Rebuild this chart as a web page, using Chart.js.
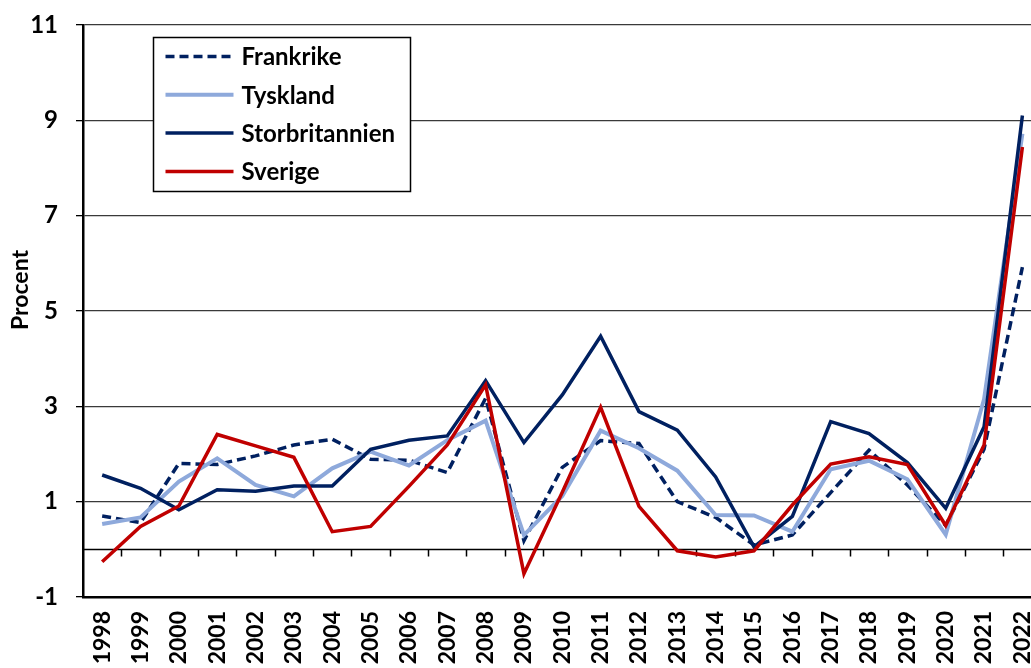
<!DOCTYPE html>
<html>
<head>
<meta charset="utf-8">
<script src="https://cdn.jsdelivr.net/npm/chart.js@4.4.1/dist/chart.umd.min.js"></script>
<style>
  html, body { margin: 0; padding: 0; background: #ffffff; overflow: hidden; }
  #wrap { width: 1064px; height: 668px; }
</style>
</head>
<body>
<div id="wrap"><canvas id="c" width="1064" height="668"></canvas></div>
<script>
const years = ['1998','1999','2000','2001','2002','2003','2004','2005','2006','2007','2008','2009','2010','2011','2012','2013','2014','2015','2016','2017','2018','2019','2020','2021','2022'];
const frankrike = [0.70, 0.56, 1.80, 1.78, 1.96, 2.19, 2.31, 1.89, 1.87, 1.61, 3.17, 0.18, 1.72, 2.28, 2.22, 1.00, 0.67, 0.09, 0.30, 1.19, 2.08, 1.35, 0.50, 2.10, 5.92];
const tyskland  = [0.53, 0.67, 1.42, 1.91, 1.35, 1.11, 1.70, 2.05, 1.76, 2.29, 2.70, 0.30, 1.12, 2.49, 2.12, 1.65, 0.72, 0.71, 0.37, 1.68, 1.86, 1.47, 0.31, 3.15, 8.72];
const storbritannien = [1.56, 1.28, 0.83, 1.25, 1.22, 1.33, 1.33, 2.10, 2.29, 2.38, 3.54, 2.24, 3.24, 4.47, 2.89, 2.50, 1.52, 0.05, 0.69, 2.68, 2.43, 1.82, 0.86, 2.57, 9.10];
const sverige   = [-0.26, 0.48, 0.91, 2.41, 2.17, 1.93, 0.37, 0.48, 1.32, 2.19, 3.45, -0.51, 1.20, 2.98, 0.90, -0.03, -0.16, -0.03, 0.93, 1.79, 1.94, 1.78, 0.50, 2.19, 8.44];
const yTicks = [-1, 1, 3, 5, 7, 9, 11];
const yTitle = 'Procent';

const FONT = 'Lato, "Open Sans", "DejaVu Sans", sans-serif';

const zeroLinePlugin = {
  id: 'zeroLine',
  beforeDatasetsDraw(chart) {
    const {ctx, chartArea, scales: {x, y}} = chart;
    const y0 = Math.round(y.getPixelForValue(0)) + 0.5;
    ctx.save();
    ctx.strokeStyle = '#000000';
    ctx.lineWidth = 1.5;
    ctx.beginPath();
    ctx.moveTo(chartArea.left, y0);
    ctx.lineTo(chartArea.right, y0);
    for (let i = 1; i < years.length; i++) {
      const px = Math.round(x.getPixelForValue(i - 0.5)) + 0.5;
      ctx.moveTo(px, y0);
      ctx.lineTo(px, y0 + 7);
    }
    ctx.stroke();
    ctx.restore();
  }
};

const legendPlugin = {
  id: 'boxLegend',
  afterDatasetsDraw(chart) {
    const {ctx, chartArea} = chart;
    const left = chartArea.left + 70.5, top = chartArea.top + 12.5;
    const w = 257, h = 154;
    ctx.save();
    ctx.fillStyle = '#ffffff';
    ctx.fillRect(left, top, w, h);
    ctx.strokeStyle = '#000000';
    ctx.lineWidth = 1.5;
    ctx.strokeRect(left, top, w, h);
    [0, 1, 2, 3].forEach((di, k) => {
      const ds = chart.data.datasets[di];
      const yy = top + 19 + k * 38.3;
      ctx.strokeStyle = ds.borderColor;
      ctx.lineWidth = ds.borderWidth;
      ctx.setLineDash(ds.borderDash || []);
      ctx.beginPath();
      ctx.moveTo(left + 12, yy);
      ctx.lineTo(left + 80, yy);
      ctx.stroke();
      ctx.setLineDash([]);
      ctx.fillStyle = '#000000';
      ctx.font = 'bold 24px ' + FONT;
      ctx.textBaseline = 'middle';
      ctx.textAlign = 'left';
      ctx.fillText(ds.label, left + 88, yy + 1);
    });
    ctx.restore();
  }
};

const yTitlePlugin = {
  id: 'yTitle',
  afterDraw(chart) {
    const {ctx, chartArea} = chart;
    ctx.save();
    ctx.translate(chartArea.left - 62, (chartArea.top + chartArea.bottom) / 2 - 21);
    ctx.rotate(-Math.PI / 2);
    ctx.fillStyle = '#000000';
    ctx.font = 'bold 23px ' + FONT;
    ctx.textAlign = 'center';
    ctx.textBaseline = 'middle';
    ctx.fillText(yTitle, 0, 0);
    ctx.restore();
  }
};

new Chart(document.getElementById('c'), {
  type: 'line',
  data: {
    labels: years,
    datasets: [
      { label: 'Frankrike', data: frankrike, borderColor: '#002060', borderWidth: 3.5, borderDash: [9, 5], order: 4 },
      { label: 'Tyskland', data: tyskland, borderColor: '#8EA9DB', borderWidth: 4, order: 3 },
      { label: 'Storbritannien', data: storbritannien, borderColor: '#002060', borderWidth: 3.5, order: 2 },
      { label: 'Sverige', data: sverige, borderColor: '#C00000', borderWidth: 3.5, order: 1 }
    ]
  },
  options: {
    responsive: false,
    animation: false,
    devicePixelRatio: 1,
    layout: { padding: { top: 25, right: 0, left: 0, bottom: 0 } },
    elements: {
      point: { radius: 0, hoverRadius: 0 },
      line: { tension: 0, fill: false, borderCapStyle: 'butt', borderJoinStyle: 'miter' }
    },
    plugins: { legend: { display: false }, tooltip: { enabled: false } },
    scales: {
      x: {
        type: 'category',
        offset: true,
        grid: { display: false, drawTicks: false },
        border: { display: true, color: '#000000', width: 2.5 },
        ticks: {
          autoSkip: false, minRotation: 90, maxRotation: 90, padding: 14,
          color: '#000000', font: { family: FONT, size: 23, weight: 'bold' }
        },
        afterFit(scale) { scale.height = 71; }
      },
      y: {
        type: 'linear',
        min: yTicks[0],
        max: yTicks[yTicks.length - 1],
        afterBuildTicks(scale) { scale.ticks = yTicks.map(v => ({ value: v })); },
        grid: { color: '#3a3a3a', lineWidth: 1.3, drawTicks: true, tickLength: 7, tickColor: '#000000' },
        border: { display: true, color: '#000000', width: 2.5 },
        ticks: {
          padding: 18, color: '#000000',
          font: { family: FONT, size: 24, weight: 'bold' }
        },
        afterFit(scale) { scale.width = 83; scale.paddingTop = 0; scale.paddingBottom = 0; }
      }
    }
  },
  plugins: [zeroLinePlugin, legendPlugin, yTitlePlugin]
});
</script>
</body>
</html>
